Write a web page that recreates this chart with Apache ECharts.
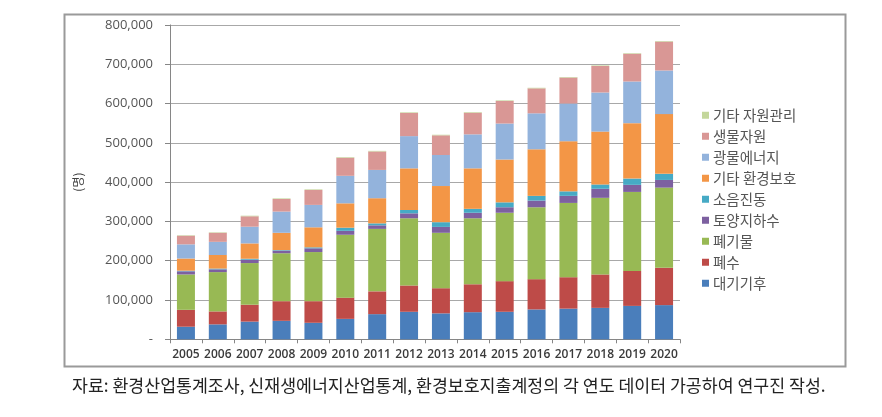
<!DOCTYPE html>
<html>
<head>
<meta charset="utf-8">
<script src="https://cdn.jsdelivr.net/npm/echarts@6/dist/echarts.min.js"></script>
<style>
html,body{margin:0;padding:0;background:#fff;}
#c{width:882px;height:417px;}
</style>
</head>
<body>
<div id="c"></div>
<script>
const years = ['2005','2006','2007','2008','2009','2010','2011','2012','2013','2014','2015','2016','2017','2018','2019','2020'];
const yTicks = [0,100000,200000,300000,400000,500000,600000,700000,800000];
const seriesNames = ['대기기후','폐수','폐기물','토양지하수','소음진동','기타 환경보호','광물에너지','생물자원','기타 자원관리'];
const legendOrder = ['기타 자원관리','생물자원','광물에너지','기타 환경보호','소음진동','토양지하수','폐기물','폐수','대기기후'];
const air      = [32000,38000,45000,47000,42000,52000,64000,70000,66000,69000,70000,76000,78000,80000,85000,87000];
const water    = [43000,33000,43000,50000,55000,54000,58000,67000,64000,71000,78000,77000,80000,85000,89000,95000];
const waste    = [90000,100000,106000,122000,125000,160000,159000,171000,141000,168000,174000,183000,189000,195000,201000,204000];
const soil     = [8000,7000,8500,6500,9500,10000,9000,12500,15000,14000,14000,17000,18000,23000,18000,19500];
const noise    = [1600,2000,2500,1500,2500,8000,5000,8500,12000,10000,12500,12000,11500,11000,16000,15500];
const envEtc   = [31000,34500,39000,44000,51000,62000,64000,106000,92000,103000,109000,118500,127500,134500,141000,152000];
const mineral  = [36000,33500,42500,54000,57000,70000,72000,82000,79000,86500,91500,91500,96000,99500,106000,111000];
const bio      = [22000,23000,26500,32000,38000,46000,47000,59000,50000,55000,57500,63500,66000,67500,70500,73500];
const resEtc   = [1200,1200,1500,1500,1500,1500,1500,1500,1500,1500,1500,1500,1500,1500,1500,1500];
const footnote = '자료: 환경산업통계조사, 신재생에너지산업통계, 환경보호지출계정의 각 연도 데이터 가공하여 연구진 작성.';

const values = [air, water, waste, soil, noise, envEtc, mineral, bio, resEtc];
const colors = ['#4A7EBB','#BE4B48','#98B954','#7D60A0','#46AAC5','#F39646','#93B3DC','#D99795','#C4D79B'];

const chart = echarts.init(document.getElementById('c'), null, {renderer:'canvas'});
chart.setOption({
  animation:false,
  backgroundColor:'#fff',
  color: colors,
  graphic:[
    {type:'rect', left:62, top:12, shape:{width:781, height:352}, style:{fill:'none', stroke:'#9a9a9a', lineWidth:2}, z:-1},
    {type:'text', left:72, top:377, style:{text:footnote, font:'17.3px "Noto Sans CJK KR"', fill:'#222'}}
  ],
  grid:{left:170, right:202, top:24.9, bottom:77.7, containLabel:false},
  legend:{
    orient:'vertical', left:697, top:103,
    data: legendOrder,
    itemWidth:7, itemHeight:7, itemGap:6.5,
    icon:'rect',
    textStyle:{fontFamily:'"Noto Sans CJK KR"', fontSize:14.5, color:'#555', lineHeight:14, padding:[0,0,0,-1]}
  },
  xAxis:{
    type:'category', data: years,
    axisLine:{lineStyle:{color:'#868686'}},
    axisTick:{show:true, length:4, lineStyle:{color:'#868686'}},
    axisLabel:{fontFamily:'"Open Sans"', fontSize:12, fontWeight:600, color:'#3a3a3a', margin:9, interval:0}
  },
  yAxis:{
    type:'value', min:0, max:800000, interval:100000,
    name:'(명)', nameLocation:'middle', nameRotate:90, nameGap:86,
    nameTextStyle:{fontFamily:'"Noto Sans CJK KR"', fontSize:12, color:'#404040'},
    axisLine:{show:true, lineStyle:{color:'#868686'}},
    axisTick:{show:true, length:5, lineStyle:{color:'#868686'}},
    splitLine:{lineStyle:{color:'#a8a8a8'}},
    axisLabel:{fontFamily:'"Open Sans"', fontSize:13, color:'#555', margin:17,
      formatter: v => v === 0 ? '-' : v.toLocaleString('en-US')}
  },
  series: seriesNames.map((n,i)=>({
    name:n, type:'bar', stack:'total', data: values[i], barWidth:18,
    itemStyle:{color:colors[i]}
  }))
});
</script>
</body>
</html>
